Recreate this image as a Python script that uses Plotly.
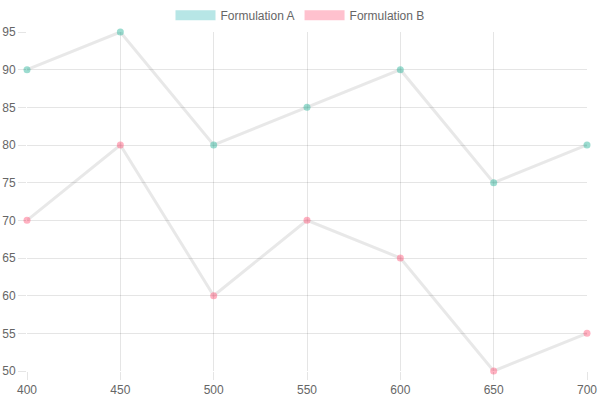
import plotly.graph_objects as go

wavelengths = [400, 450, 500, 550, 600, 650, 700]
formulation_a = [90, 95, 80, 85, 90, 75, 80]
formulation_b = [70, 80, 60, 70, 65, 50, 55]

series = [
    ("Formulation A", formulation_a, "rgba(75,192,170,0.55)", "rgba(75,192,192,0.4)"),
    ("Formulation B", formulation_b, "rgba(255,99,132,0.5)", "rgba(255,99,132,0.4)"),
]

fig = go.Figure()
for name, values, point_color, box_color in series:
    fig.add_trace(go.Scatter(
        x=wavelengths, y=values, mode="lines+markers", name=name,
        line=dict(color="rgba(0,0,0,0.09)", width=3),
        marker=dict(size=7, color=point_color),
        showlegend=False, cliponaxis=False,
    ))
    # legend swatch only
    fig.add_trace(go.Scatter(
        x=[None], y=[None], mode="lines", name=name,
        line=dict(color=box_color, width=12),
    ))

axis = dict(
    showgrid=True, gridcolor="rgba(0,0,0,0.1)", gridwidth=1,
    ticks="outside", ticklen=8, tickcolor="rgba(0,0,0,0.1)",
    showline=False, zeroline=False, automargin=False,
    tickfont=dict(size=12, color="#666"),
)

fig.update_layout(
    width=600, height=400,
    margin=dict(l=27, r=13, t=32, b=29),
    paper_bgcolor="white", plot_bgcolor="white",
    font=dict(family="Liberation Sans, Arial, sans-serif", size=12, color="#666"),
    xaxis=dict(axis, range=[400, 700], dtick=50),
    yaxis=dict(axis, range=[50, 95], dtick=5),
    legend=dict(orientation="h", x=0.5, xanchor="center", xref="container",
                y=0.962, yanchor="middle", yref="container",
                font=dict(size=12, color="#666"), itemwidth=40),
)

# drop the default body margin so the 600x400 figure fills the window
fig.write_html("out.html", config={"displayModeBar": False},
               post_script="document.body.style.margin='0';")
